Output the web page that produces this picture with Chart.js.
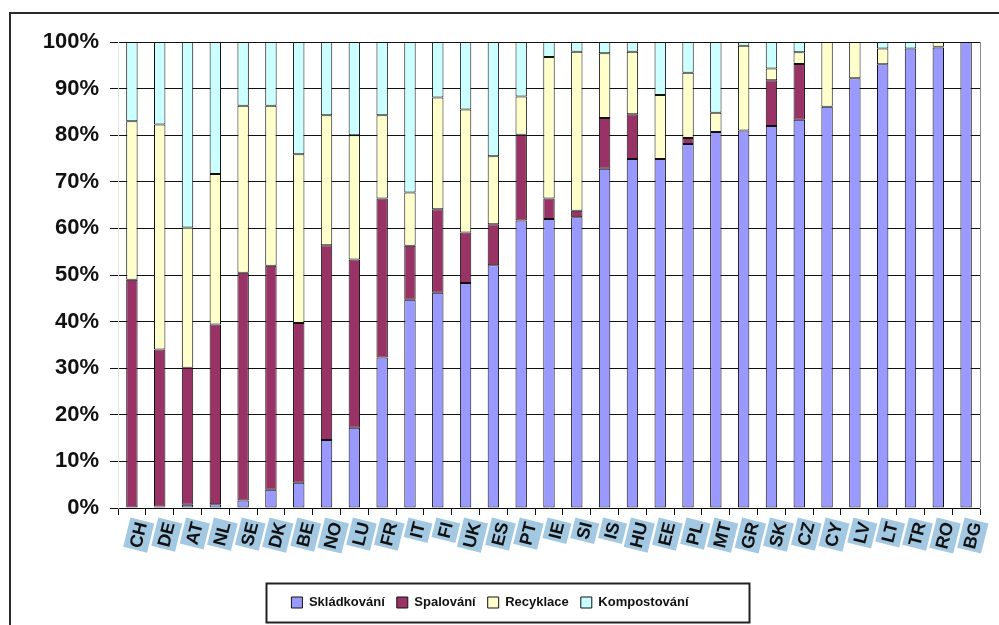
<!DOCTYPE html>
<html>
<head>
<meta charset="utf-8">
<script src="https://cdn.jsdelivr.net/npm/chart.js@4.4.1/dist/chart.umd.min.js"></script>
<style>
  html, body { margin: 0; padding: 0; background: #fff; overflow: hidden; }
  #wrap { position: relative; width: 999px; height: 625px; overflow: hidden; }
  #frame { position: absolute; left: 9px; top: 12px; width: 1200px; height: 900px;
           border-left: 2px solid #2a2a2a; border-top: 2px solid #2a2a2a; }
  #chart { position: absolute; left: 0; top: 0; }
</style>
</head>
<body>
<div id="wrap">
  <div id="frame"></div>
  <canvas id="chart" width="999" height="625"></canvas>
</div>
<script>
const categories = ['CH','DE','AT','NL','SE','DK','BE','NO','LU','FR','IT','FI','UK','ES','PT','IE','SI','IS','HU','EE','PL','MT','GR','SK','CZ','CY','LV','LT','TR','RO','BG'];
const seriesNames = ['Skládkování','Spalování','Recyklace','Kompostování'];
const landfill     = [0,   0.3, 0.7, 0.8, 1.6, 3.9, 5.4, 14.6,17.2,32.3,44.7,46.2,48.3,52.1,61.7,62.0,62.4,72.8,74.9,74.9,78.1,80.7,81.0,82.0,83.3,86.1,92.2,95.2,98.6,98.8,100];
const incineration = [49,  33.7,29.4,38.6,48.9,48.1,34.3,41.8,36.1,34.1,11.6,17.9,10.8, 8.8,18.4, 4.4, 1.4,10.9, 9.6, 0,   1.3, 0,   0,   9.8,12.0, 0,   0,   0,   0,   0.2, 0];
const recycling    = [34,  48.3,30.1,32.3,35.8,34.3,36.2,27.9,26.7,17.9,11.4,24.0,26.4,14.6, 8.2,30.4,34.1,13.9,13.4,13.7,14.0, 4.1,18.2, 2.5, 2.5,13.9, 7.8, 3.4, 0,   1.0, 0];
const composting   = [17,  17.7,39.8,28.3,13.7,13.7,24.1,15.7,20.0,15.7,32.3,11.9,14.5,24.5,11.7, 3.2, 2.1, 2.4, 2.1,11.4, 6.6,15.2, 0.8, 5.7, 2.2, 0,   0,   1.4, 1.4, 0,   0];
const yMin = 0, yMax = 100, yStep = 10;

const colors = ['#9999ff','#993366','#ffffcc','#ccffff'];
const values = [landfill, incineration, recycling, composting];

const legendFrame = {
  id: 'legendFrame',
  afterDraw(chart) {
    const ctx = chart.ctx;
    const lg = chart.legend;
    const xs = chart.scales.x, ys = chart.scales.y;
    ctx.save();
    ctx.strokeStyle = '#8a8a8a';
    ctx.lineWidth = 1;
    const r = Math.round(xs.right) + 0.5;
    ctx.beginPath();
    ctx.moveTo(r, ys.top);
    ctx.lineTo(r, ys.bottom);
    ctx.stroke();
    if (lg && lg.legendHitBoxes && lg.legendHitBoxes.length) {
      const hb = lg.legendHitBoxes;
      const first = hb[0], last = hb[hb.length - 1];
      const left = Math.round(first.left - 25) + 0.5;
      const right = Math.round(last.left + last.width + 60) + 0.5;
      const top = Math.round(lg.top - 1) + 0.5;
      ctx.strokeStyle = '#222';
      ctx.lineWidth = 2;
      ctx.strokeRect(left, top, right - left, 39);
    }
    ctx.restore();
  }
};

new Chart(document.getElementById('chart'), {
  type: 'bar',
  data: {
    labels: categories,
    datasets: seriesNames.map((name, i) => ({
      label: name,
      data: values[i],
      backgroundColor: colors[i],
      borderColor: '#111',
      borderWidth: 1,
      borderSkipped: false,
      barPercentage: 0.41,
      categoryPercentage: 1
    }))
  },
  options: {
    responsive: false,
    animation: false,
    layout: { padding: { left: 0, right: 19, top: 42, bottom: 6 } },
    plugins: {
      tooltip: { enabled: false },
      legend: {
        display: true,
        position: 'bottom',
        labels: {
          boxWidth: 11,
          boxHeight: 11,
          padding: 12,
          color: '#111',
          font: { family: "'Liberation Sans', Arial, sans-serif", size: 13, weight: 'bold' }
        }
      }
    },
    scales: {
      x: {
        stacked: true,
        afterFit(s) { s.height = 76; },
        grid: { drawOnChartArea: false, offset: true, color: '#111', tickLength: 7 },
        ticks: {
          autoSkip: false,
          minRotation: 76, maxRotation: 76,
          padding: 5,
          color: '#111',
          font: { family: "'Liberation Sans', Arial, sans-serif", size: 18, weight: 'bold' },
          showLabelBackdrop: true,
          backdropColor: '#a3c8e2',
          backdropPadding: { top: 2, bottom: 1, left: 2, right: 2 }
        }
      },
      y: {
        stacked: true,
        min: yMin, max: yMax,
        afterFit(s) { s.width = 118; },
        grid: { color: '#111', tickLength: 8, lineWidth: 1 },
        ticks: {
          stepSize: yStep,
          padding: 11,
          color: '#111',
          font: { family: "'Liberation Sans', Arial, sans-serif", size: 22, weight: 'bold' },
          callback: (val) => val + '%'
        }
      }
    }
  },
  plugins: [legendFrame]
});
</script>
</body>
</html>
